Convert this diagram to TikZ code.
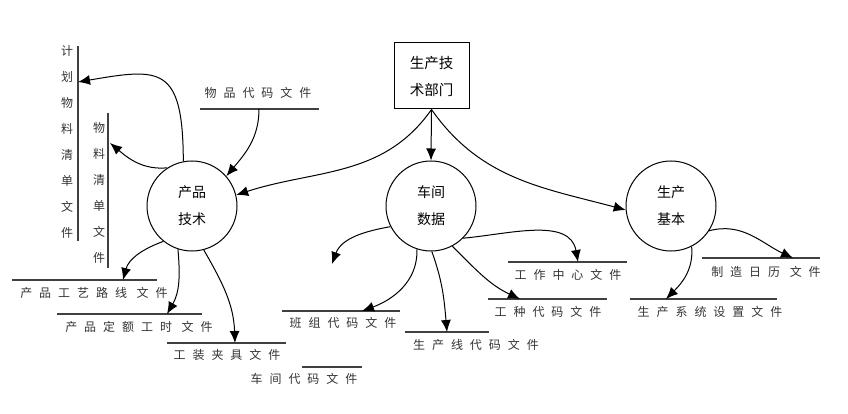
\documentclass[tikz,border=0pt]{standalone}
\usepackage{fontspec}
\setmainfont{Noto Sans CJK SC}
\newfontfamily\storefont[LetterSpace=58]{Noto Sans CJK SC}
\usetikzlibrary{arrows.meta}

\begin{document}
\begin{tikzpicture}[x=1pt,y=1pt,
  proc/.style={circle,draw,line width=1pt,minimum size=90pt,inner sep=0pt,align=center,font=\fontsize{14}{27}\selectfont},
  dept/.style={draw,line width=1pt,minimum width=75pt,minimum height=66pt,inner sep=0pt,align=center,font=\fontsize{14.5}{27}\selectfont},
  store/.style={draw=black!75,line width=1.5pt},
  storetext/.style={inner sep=0pt,text=black!80,font=\storefont\fontsize{12}{14}\selectfont},
  vtext/.style={inner sep=0pt,align=center,text=black!80,font=\fontsize{12}{26}\selectfont},
  flow/.style={-{Latex[length=12pt,width=10pt]},line width=1pt}]
\useasboundingbox (0,0) rectangle (848,-414);
% processes
\node [dept] (dept) at (431.5,-76) {生产技\\术部门};
\node [proc] (prod) at (192,-206) {产品\\技术};
\node [proc] (shop) at (431,-206) {车间\\数据};
\node [proc] (base) at (671,-206) {生产\\基本};
% vertical stores
\draw [store] (78,-46) -- (78,-241);
\node [vtext] (planbom) at (67,-141.5) {计\\划\\物\\料\\清\\单\\文\\件};
\draw [store] (108,-113) -- (108,-268);
\node [vtext] (bom) at (99,-193) {物\\料\\清\\单\\文\\件};
% horizontal stores
\draw [store] (200,-109) -- (319,-109);
\node [storetext] (item) at (258,-93) {物品代码文件};
\draw [store] (12,-280) -- (157,-280);
\node [storetext] (route) at (94,-293) {产品工艺路线 文件};
\draw [store] (57,-314) -- (202,-314);
\node [storetext] (norm) at (139,-327) {产品定额工时 文件};
\draw [store] (167,-343) -- (286,-343);
\node [storetext] (tool) at (227,-355) {工装夹具文件};
\draw [store] (302,-367) -- (362,-367);
\node [storetext] (shopcode) at (304,-379) {车间代码文件};
\draw [store] (282,-311) -- (400,-311);
\node [storetext] (team) at (343,-323) {班组代码文件};
\draw [store] (508,-262) -- (627,-262);
\node [storetext] (center) at (568,-275) {工作中心文件};
\draw [store] (488,-299) -- (607,-299);
\node [storetext] (trade) at (548,-312) {工种代码文件};
\draw [store] (405,-332) -- (489,-332);
\node [storetext] (line) at (476,-345) {生产线代码文件};
\draw [store] (702,-258) -- (820,-258);
\node [storetext] (cal) at (766,-272) {制造日历 文件};
\draw [store] (630,-299) -- (777,-299);
\node [storetext] (setup) at (710,-312) {生产系统设置文件};
% arrow ends on the stores
\coordinate (itemout) at (259,-109);
\coordinate (planin) at (78,-82);
\coordinate (bomin) at (110,-143);
\coordinate (routein) at (123,-280);
\coordinate (normin) at (167,-314);
\coordinate (toolin) at (235,-343);
\coordinate (loose) at (332,-264);
\coordinate (teamin) at (362,-311);
\coordinate (linein) at (447,-332);
\coordinate (tradein) at (520,-299);
\coordinate (centerin) at (578,-262);
\coordinate (calin) at (793,-258);
\coordinate (setupin) at (666,-299);
% flows
\draw [flow] (dept.south) -- (shop.north);
\draw [flow] (dept.south) to[out=-125,in=18] (prod.14);
\draw [flow] (dept.south) to[out=-55,in=165] (base.185);
\draw [flow] (itemout) to[out=-90,in=50] (prod.41);
\draw [flow] (prod.101) .. controls (183,-65) and (160,-68) .. (planin);
\draw [flow] (prod.123) to[out=185,in=-40] (bomin);
\draw [flow] (prod.231) to[out=200,in=75] (routein);
\draw [flow] (prod.252) to[out=-85,in=60] (normin);
\draw [flow] (prod.285) to[out=-60,in=92] (toolin);
\draw [flow] (shop.207) to[out=190,in=70] (loose);
\draw [flow] (shop.252) to[out=-88,in=20] (teamin);
\draw [flow] (shop.271) to[out=-70,in=95] (linein);
\draw [flow] (shop.298) to[out=-45,in=155] (tradein);
\draw [flow] (shop.315) to[out=5,in=100] (centerin);
\draw [flow] (base.327) to[out=15,in=155] (calin);
\draw [flow] (base.297) to[out=-85,in=45] (setupin);
\end{tikzpicture}
\end{document}
